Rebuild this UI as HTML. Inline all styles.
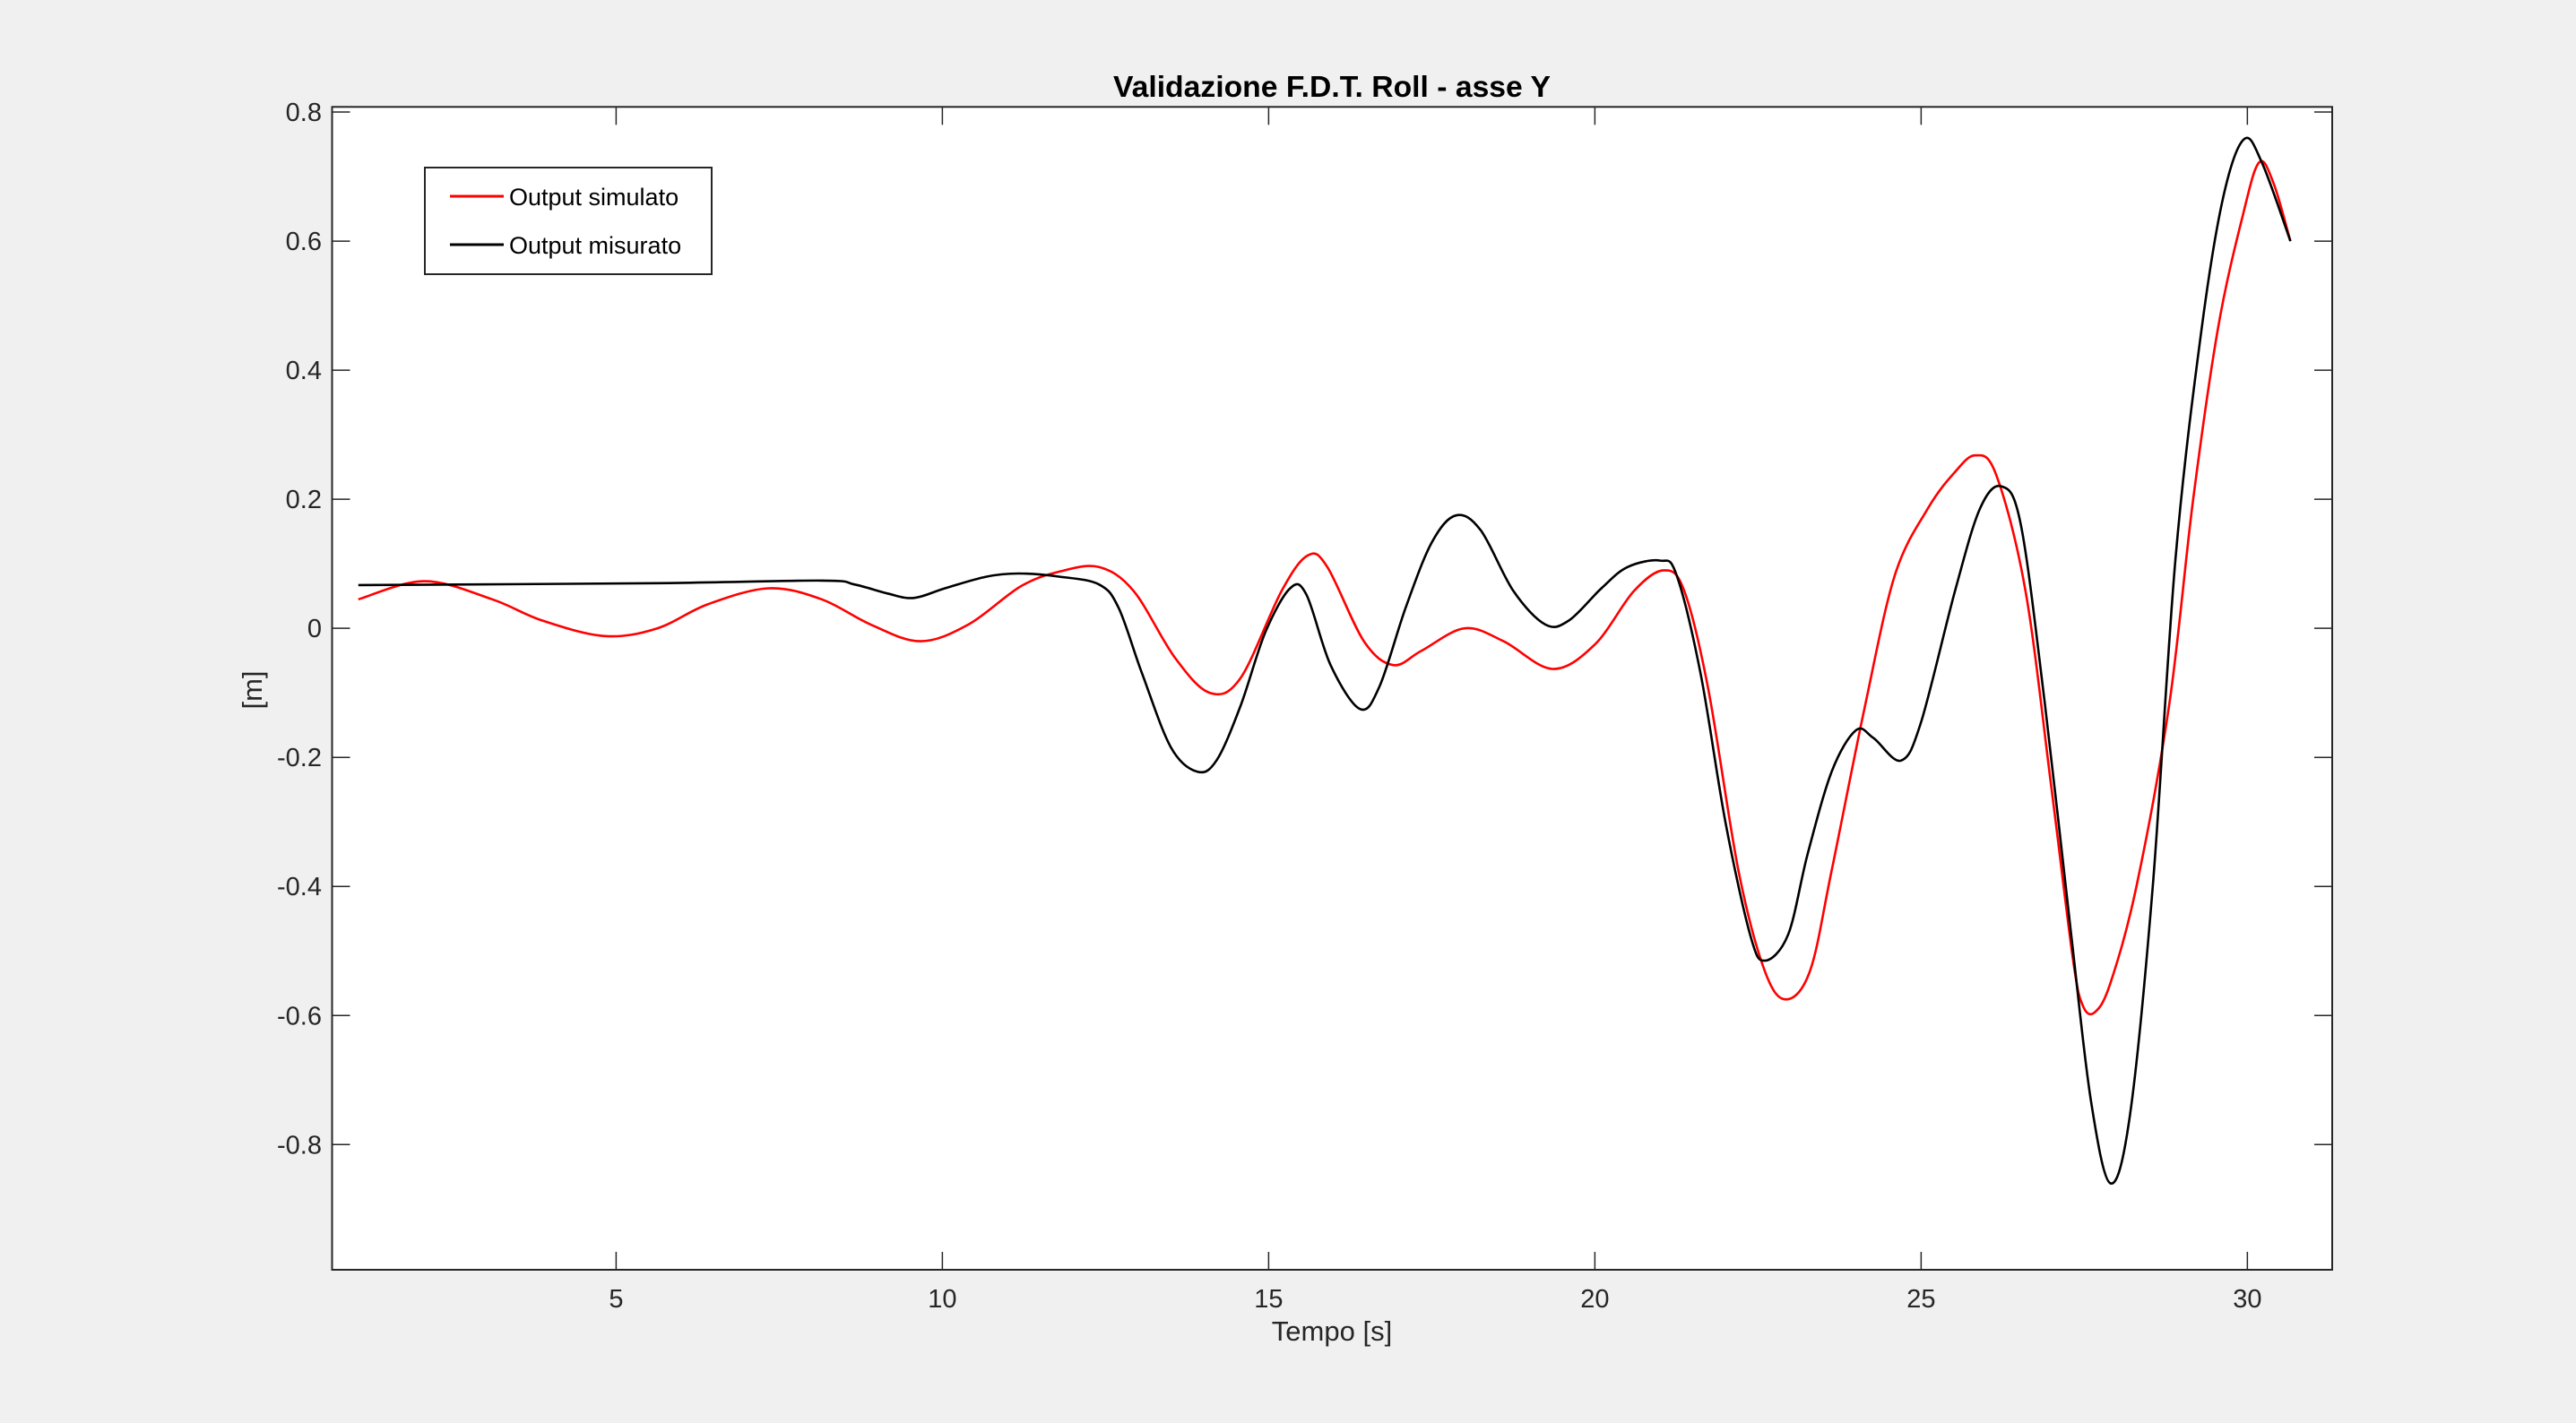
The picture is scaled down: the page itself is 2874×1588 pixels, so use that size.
<!DOCTYPE html>
<html><head><meta charset="utf-8"><style>
html,body{margin:0;padding:0;background:#f0f0f0;}
svg{display:block;font-family:"Liberation Sans",Arial,sans-serif;}
</style></head><body>
<svg id="chart" width="2874" height="1588" viewBox="0 0 2874 1588" xmlns="http://www.w3.org/2000/svg">
<rect x="0" y="0" width="2874" height="1588" fill="#f0f0f0"/>
<rect x="370.5" y="119.3" width="2231.5" height="1297.7" fill="#fff"/>
<g id="grid"></g>
<g id="series"></g>
<rect x="370.5" y="119.3" width="2231.5" height="1297.7" fill="none" stroke="#262626" stroke-width="2"/>
<text x="1486" y="108" text-anchor="middle" font-size="33" font-weight="bold" fill="#000" textLength="488" lengthAdjust="spacingAndGlyphs">Validazione F.D.T. Roll - asse Y</text>
<text x="1486" y="1496" text-anchor="middle" font-size="31" fill="#262626">Tempo [s]</text>
<text x="0" y="0" transform="translate(292,770) rotate(-90)" text-anchor="middle" font-size="31" fill="#262626">[m]</text>
<g>
<rect x="474" y="187" width="320" height="119" fill="#fff" stroke="#262626" stroke-width="2"/>
<line x1="502" y1="219" x2="562" y2="219" stroke="#ff0000" stroke-width="3"/>
<text x="568" y="229" font-size="27" fill="#000">Output simulato</text>
<line x1="502" y1="273" x2="562" y2="273" stroke="#000" stroke-width="3"/>
<text x="568" y="283" font-size="27" fill="#000">Output misurato</text>
</g>
</svg>
<script>
const xTicks = [5, 10, 15, 20, 25, 30];
const yTicks = [-0.8, -0.6, -0.4, -0.2, 0, 0.2, 0.4, 0.6, 0.8];
const yTickLabels = ["-0.8", "-0.6", "-0.4", "-0.2", "0", "0.2", "0.4", "0.6", "0.8"];
const simT = [1.05,2.06,3.1,3.87,4.83,5.63,6.4,7.34,8.15,8.9,9.66,10.4,11.2,11.8,12.4,12.93,13.56,14.1,14.57,15.2,15.6,15.9,16.46,16.91,17.34,18.0,18.6,19.35,20.0,20.6,21.06,21.37,21.74,22.2,22.6,22.93,23.3,23.63,24.14,24.6,25.1,25.5,25.83,26.15,26.6,27.0,27.33,27.48,27.66,27.9,28.3,28.8,29.17,29.55,29.93,30.18,30.4,30.66];
const simY = [0.045,0.073,0.045,0.012,-0.012,0.0,0.037,0.062,0.045,0.006,-0.02,0.006,0.065,0.088,0.095,0.058,-0.045,-0.10,-0.077,0.058,0.113,0.095,-0.02,-0.057,-0.035,0.0,-0.02,-0.063,-0.025,0.058,0.09,0.058,-0.095,-0.375,-0.53,-0.575,-0.53,-0.375,-0.12,0.083,0.185,0.24,0.268,0.238,0.058,-0.25,-0.515,-0.585,-0.595,-0.55,-0.40,-0.12,0.2,0.465,0.64,0.722,0.69,0.6];
const misT = [1.05,5.63,8.15,8.65,9.16,9.56,10.04,10.67,11.17,11.8,12.4,12.7,13.06,13.5,13.9,14.2,14.57,14.95,15.33,15.58,15.95,16.4,16.7,17.1,17.5,17.87,18.25,18.75,19.24,19.6,20.1,20.5,21.0,21.25,21.62,22.0,22.38,22.6,22.96,23.26,23.63,24.0,24.27,24.69,25.0,25.52,25.9,26.23,26.53,26.9,27.3,27.6,27.9,28.2,28.55,28.9,29.3,29.63,29.95,30.23,30.66];
const misY = [0.067,0.07,0.074,0.068,0.054,0.047,0.062,0.08,0.085,0.08,0.068,0.032,-0.07,-0.184,-0.222,-0.205,-0.12,-0.006,0.062,0.052,-0.057,-0.125,-0.09,0.032,0.133,0.175,0.152,0.058,0.006,0.012,0.062,0.095,0.105,0.083,-0.07,-0.30,-0.475,-0.515,-0.475,-0.35,-0.222,-0.158,-0.17,-0.205,-0.145,0.058,0.185,0.22,0.16,-0.12,-0.475,-0.73,-0.86,-0.755,-0.40,0.11,0.465,0.668,0.758,0.72,0.6];

const X0 = 370.5, X1 = 2602, Y0 = 1417, Y1 = 119.3;
const xMin = 0.647, xMax = 31.30, yMin = -0.994, yMax = 0.808;
function sx(v){ return X0 + (v - xMin) / (xMax - xMin) * (X1 - X0); }
function sy(v){ return Y0 - (v - yMin) / (yMax - yMin) * (Y0 - Y1); }
const NS = "http://www.w3.org/2000/svg";
const grid = document.getElementById('grid');
function mk(tag, attrs, parent){ const e = document.createElementNS(NS, tag); for (const k in attrs) e.setAttribute(k, attrs[k]); parent.appendChild(e); return e; }

xTicks.forEach(function(v){
  const x = sx(v);
  const a = mk('line', {x1:x, y1:Y0, x2:x, y2:Y0-20, stroke:'#262626', 'stroke-width':1.5}, grid);
  
  
  const b = mk('line', {x1:x, y1:Y1, x2:x, y2:Y1+20, stroke:'#262626', 'stroke-width':1.5}, grid);
  
  
  const t = mk('text', {x:x, y:Y0+42, 'text-anchor':'middle', 'font-size':29, fill:'#262626'}, grid);
  t.textContent = String(v);
  
  
});
yTicks.forEach(function(v, i){
  const y = sy(v);
  const a = mk('line', {x1:X0, y1:y, x2:X0+20, y2:y, stroke:'#262626', 'stroke-width':1.5}, grid);
  
  
  const b = mk('line', {x1:X1, y1:y, x2:X1-20, y2:y, stroke:'#262626', 'stroke-width':1.5}, grid);
  
  
  const t = mk('text', {x:359, y:y+10, 'text-anchor':'end', 'font-size':29, fill:'#262626'}, grid);
  t.textContent = yTickLabels[i];
  
  
});

function smoothPath(ts, ys){
  const p = ts.map(function(t, i){ return [sx(t), sy(ys[i])]; });
  let d = 'M' + p[0][0].toFixed(1) + ',' + p[0][1].toFixed(1);
  for (let i = 0; i < p.length - 1; i++){
    const p0 = p[Math.max(0, i-1)], p1 = p[i], p2 = p[i+1], p3 = p[Math.min(p.length-1, i+2)];
    const c1 = [p1[0] + (p2[0]-p0[0])/6, p1[1] + (p2[1]-p0[1])/6];
    const c2 = [p2[0] - (p3[0]-p1[0])/6, p2[1] - (p3[1]-p1[1])/6];
    d += ' C' + c1[0].toFixed(1) + ',' + c1[1].toFixed(1) + ' ' + c2[0].toFixed(1) + ',' + c2[1].toFixed(1) + ' ' + p2[0].toFixed(1) + ',' + p2[1].toFixed(1);
  }
  return d;
}
const series = document.getElementById('series');
const ls = mk('path', {d: smoothPath(simT, simY), fill:'none', stroke:'#ff0000', 'stroke-width':2.6, 'stroke-linejoin':'round'}, series);


const lm = mk('path', {d: smoothPath(misT, misY), fill:'none', stroke:'#000000', 'stroke-width':2.6, 'stroke-linejoin':'round'}, series);


</script>
</body></html>
